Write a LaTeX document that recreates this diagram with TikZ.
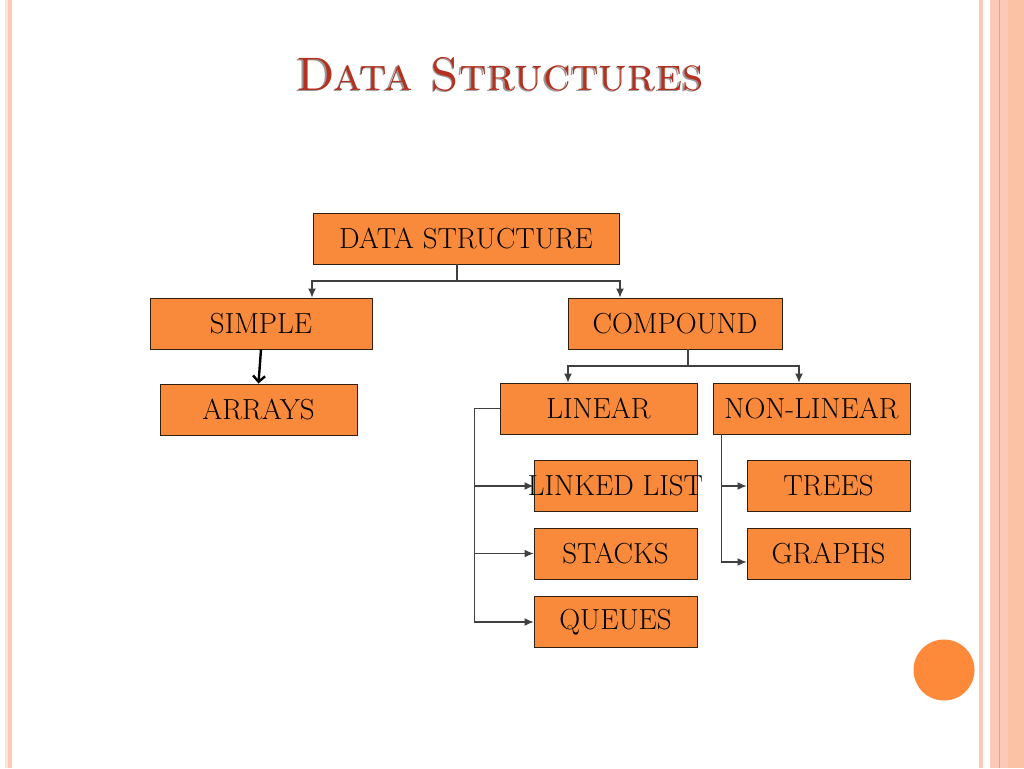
\documentclass[tikz,border=0pt]{standalone}
\usepackage{fontspec}
\usetikzlibrary{positioning, calc, arrows, arrows.meta}
\tikzset{>=latex}
\definecolor{boxorange}{HTML}{F98A3B}
\definecolor{dotorange}{HTML}{FD8A3A}
\definecolor{titlered}{HTML}{B5301F}
\definecolor{rimpink}{HTML}{FCC9B8}
\definecolor{rimbeige}{HTML}{FBE6D6}
\definecolor{rimline}{HTML}{EBA082}

\begin{document}
\begin{tikzpicture}
    [
        x=1pt, y=-1pt, inner sep=0pt,
        orange_node/.style={rectangle, draw=black!75!brown, fill=boxorange, line width=0.9pt, minimum height=51pt, font=\fontsize{29}{32}\selectfont},
        link/.style={draw=black!75, line width=1.2pt, -{Latex[length=9pt, width=8pt]}},
        thick_link/.style={draw=black, line width=2.4pt, -{Straight Barb[length=6pt, width=12pt]}},
    ]

  % slide background and rims
  \fill[white] (0,0) rectangle (1024,768);
  \useasboundingbox (0,0) rectangle (1024,768);
  \fill[rimbeige] (5,0) rectangle (8,768);
  \fill[rimpink] (8,0) rectangle (12,768);
  \fill[rimpink] (979,0) rectangle (983,768);
  \fill[rimpink] (990,0) rectangle (1024,768);
  \fill[rimline] (998.5,0) rectangle (999.7,768);
  \fill[rimpink!90!orange] (1008,0) rectangle (1024,768);
  \fill[dotorange] (944,670) circle (30.5);

  % title
  \node[text=black!40] at (498.5,75.5) {\fontsize{47}{50}\selectfont\textsc{Data Structures}};
  \node[text=titlered] (T) at (500,74) {\fontsize{47}{50}\selectfont\textsc{Data Structures}};

  \node[orange_node, minimum width=306pt] (A) at (466,238.5) {DATA STRUCTURE};
  \node[orange_node, minimum width=222pt] (B) at (261,323.5) {SIMPLE};
  \node[orange_node, minimum width=214pt] (C) at (675,323.5) {COMPOUND};
  \node[orange_node, minimum width=197pt] (D) at (258.5,409.5) {ARRAYS};
  \node[orange_node, minimum width=197pt] (E) at (598.5,408.5) {LINEAR};
  \node[orange_node, minimum width=197pt] (F) at (811.5,408.5) {NON-LINEAR};
  \node[orange_node, minimum width=163pt] (G) at (615.5,486) {\makebox[163pt]{LINKED LIST}};
  \node[orange_node, minimum width=163pt] (H) at (615.5,553.5) {STACKS};
  \node[orange_node, minimum width=163pt] (I) at (615.5,622) {QUEUES};
  \node[orange_node, minimum width=163pt] (J) at (828.5,486) {TREES};
  \node[orange_node, minimum width=163pt] (K) at (828.5,553.5) {GRAPHS};

  \coordinate (a) at (457,281);
  \coordinate (c) at (688,366);
  \coordinate (e) at ($(E.west)+(-25,0)$);
  \coordinate (f) at ($(F.south west)+(9,0)$);

  \draw[link, -] (a |- A.south) -- (a);
  \draw[link] (a) -| ($(B.north)+(51,0)$);
  \draw[link] (a) -| ($(C.north)+(-55,0)$);
  \draw[thick_link] (B.south) -- (D.north);
  \draw[link, -] (c |- C.south) -- (c);
  \draw[link] (c) -| ($(E.north)+(-30.5,0)$);
  \draw[link] (c) -| ($(F.north)+(-12.5,0)$);
  \draw[link] (E.west) -- (e) |- (I.west);
  \draw[link] (e |- G.west) -- (G.west);
  \draw[link] (e |- H.west) -- (H.west);
  \draw[link] (f |- J.west) -- (J.west);
  \draw[link] (f) |- ($(K.west)+(0,8.5)$);
\end{tikzpicture}
\end{document}
